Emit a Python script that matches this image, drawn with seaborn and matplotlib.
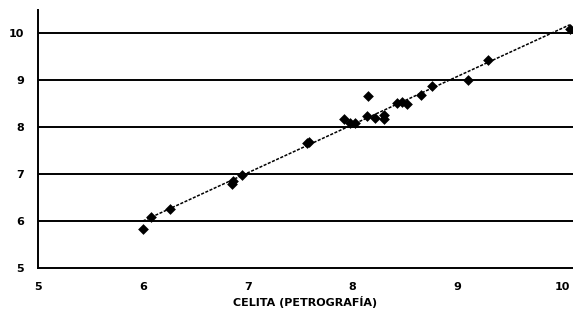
import numpy as np
import pandas as pd
import matplotlib
matplotlib.use("Agg")
import matplotlib.pyplot as plt
import seaborn as sns

x_vals = [6.00, 6.08, 6.26, 6.85, 6.86, 6.94, 7.58, 7.56, 7.92, 7.97, 8.02, 8.15, 8.14,
          8.21, 8.30, 8.30, 8.42, 8.47, 8.52, 8.65, 8.76, 9.10, 9.29, 10.07]
y_vals = [5.84, 6.09, 6.25, 6.79, 6.86, 6.98, 7.69, 7.66, 8.16, 8.09, 8.08, 8.65, 8.23,
          8.20, 8.26, 8.16, 8.52, 8.54, 8.50, 8.68, 8.87, 9.00, 9.43, 10.09]
ticks = [5, 6, 7, 8, 9, 10]
xlabel = "CELITA (PETROGRAFÍA)"

df = pd.DataFrame({"x": x_vals, "y": y_vals})

sns.set_style("white")
plt.rcParams['font.family'] = ['DejaVu Sans']

fig = plt.figure(figsize=(5.73, 3.2), dpi=100)
ax = fig.add_axes([38/573, 52/320, 535/573, 258.5/320])

for t in ticks[1:]:
    ax.axhline(t, color="black", lw=1.4, zorder=1)

sns.regplot(data=df, x="x", y="y", ci=None, ax=ax, truncate=True, marker="D",
            scatter_kws=dict(s=30, color="black", alpha=1, linewidths=0, zorder=3),
            line_kws=dict(color="black", lw=1.1, linestyle=(0, (2, 1)), zorder=2))

ax.set_xlim(5, 10.1)
ax.set_ylim(5, 10.5)
ax.set_xticks(ticks)
ax.set_yticks(ticks)
ax.set_xticklabels([str(t) for t in ticks], fontsize=8, fontweight="bold", color="black")
ax.set_yticklabels([str(t) for t in ticks], fontsize=8, fontweight="bold", color="black")
ax.tick_params(axis="both", direction="out", length=4, width=1.2, color="black", pad=6)
ax.set_xlabel(xlabel, fontsize=8, fontweight="bold", labelpad=3, color="black")
ax.set_ylabel("")
for s in ["top", "right"]:
    ax.spines[s].set_visible(False)
for s in ["left", "bottom"]:
    ax.spines[s].set_color("black")
    ax.spines[s].set_linewidth(1.4)

fig.savefig("out.png", dpi=100)
